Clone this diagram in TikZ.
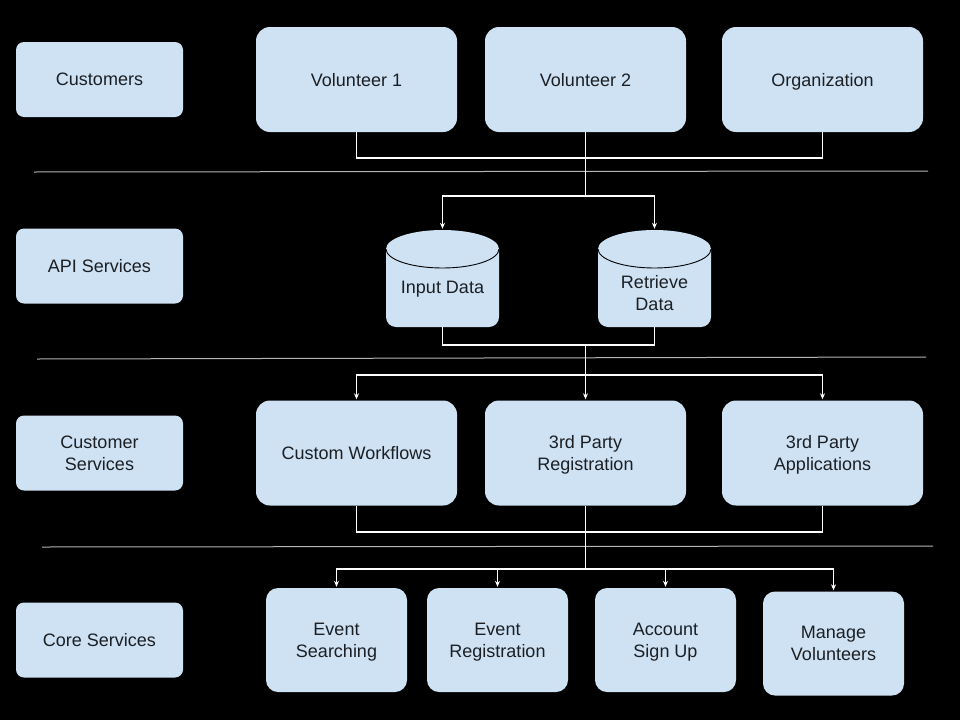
\documentclass[tikz,border=0pt]{standalone}
\usepackage{fontspec}
\setmainfont{Liberation Sans}
\usetikzlibrary{arrows.meta}
\definecolor{boxblue}{HTML}{CFE2F3}
\definecolor{txtcol}{HTML}{1B1F24}
\definecolor{sepcol}{HTML}{B4B4B4}
\begin{document}
\begin{tikzpicture}[x=1pt,y=-1pt,
  every node/.style={font=\fontsize{18}{22}\selectfont, text=txtcol, align=center, inner sep=0pt, text depth=0pt},
  labbox/.style={fill=boxblue, rounded corners=8pt, minimum width=167pt, minimum height=75pt},
  bigbox/.style={fill=boxblue, rounded corners=14pt, minimum width=201pt, minimum height=105pt},
  smallbox/.style={fill=boxblue, rounded corners=12pt, minimum width=141pt, minimum height=104pt},
  cylbox/.style={minimum width=113pt, minimum height=97pt, path picture={
    \fill[boxblue, rounded corners=10pt] ([yshift=-19pt]path picture bounding box.north west) -- (path picture bounding box.south west) -- (path picture bounding box.south east) -- ([yshift=-19pt]path picture bounding box.north east);
    \fill[boxblue] ([yshift=-19pt]path picture bounding box.north) ellipse [x radius=56.5pt, y radius=19pt];
    \draw[black, line width=0.9pt] ([yshift=-19pt]path picture bounding box.north west) arc [start angle=180, end angle=360, x radius=56.5pt, y radius=19pt];
  }},
  conn/.style={draw=white, line width=1.2pt},
  arr/.style={conn, -{Stealth[length=6pt,width=5pt]}, shorten >=1pt},
  sepline/.style={draw=sepcol, line width=1pt}
]
\fill[black] (0,0) rectangle (960,720);
\useasboundingbox (0,0) rectangle (960,720);

% separators
\draw[sepline] (34,172) -- (928,171);
\draw[sepline] (37,359) -- (926,357);
\draw[sepline] (42,547) -- (933,546);

% left labels
\node[labbox] (cust) at (99.5,79.5) {Customers};
\node[labbox] (api) at (99.5,266) {API Services};
\node[labbox] (csrv) at (99.5,453) {Customer\\Services};
\node[labbox] (core) at (99.5,640) {Core Services};

% row 1
\node[bigbox] (v1) at (356.5,79.5) {Volunteer 1};
\node[bigbox] (v2) at (585.5,79.5) {Volunteer 2};
\node[bigbox] (org) at (822.5,79.5) {Organization};

% row 2 cylinders
\node[cylbox] (inp) at (442.5,278.5) {};
\node[cylbox] (ret) at (654.5,278.5) {};
\node (inptext) at (442.5,287) {Input Data};
\node (rettext) at (654.5,293) {Retrieve\\Data};

% row 3
\node[bigbox] (cw) at (356.5,453) {Custom Workflows};
\node[bigbox] (reg) at (585.5,453) {3rd Party\\Registration};
\node[bigbox] (app) at (822.5,453) {3rd Party\\Applications};

% row 4
\node[smallbox] (es) at (336.5,640) {Event\\Searching};
\node[smallbox] (er) at (497.5,640) {Event\\Registration};
\node[smallbox] (as) at (665.5,640) {Account\\Sign Up};
\node[smallbox] (mv) at (833.5,643.5) {Manage\\Volunteers};

% junctions
\coordinate (j1) at (585.5,158);
\coordinate (j2) at (585.5,196);
\coordinate (j3) at (585.5,345);
\coordinate (j4) at (585.5,375);
\coordinate (j5) at (585.5,532);
\coordinate (j6) at (585.5,569);

% connectors
\draw[conn] (v1.south) |- (j1) -| (org.south);
\draw[conn] (v2.south) -- (j2);
\draw[arr] (j2) -| (inp.north);
\draw[arr] (j2) -| (ret.north);

\draw[conn] (inp.south) |- (j3) -| (ret.south);
\draw[conn] (j3) -- (j4);
\draw[arr] (j4) -| (cw.north);
\draw[arr] (j4) -- (reg.north);
\draw[arr] (j4) -| (app.north);

\draw[conn] (cw.south) |- (j5) -| (app.south);
\draw[conn] (reg.south) -- (j6);
\draw[arr] (j6) -| (es.north);
\draw[arr] (j6) -| (er.north);
\draw[arr] (j6) -| (as.north);
\draw[arr] (j6) -| (mv.north);
\end{tikzpicture}
\end{document}
